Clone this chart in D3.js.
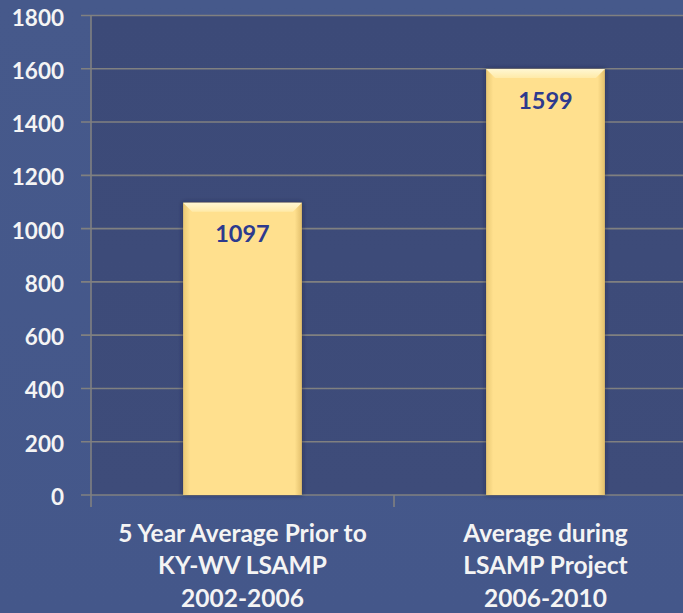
<!DOCTYPE html>
<html><head><meta charset="utf-8">
<script src="https://cdn.jsdelivr.net/npm/d3@7"></script>
<style>
html,body{margin:0;padding:0;background:#45578a;}
svg{display:block;}
</style></head>
<body>
<svg id="chart" width="683" height="613"></svg>
<script>
const categories = [
  ["5 Year Average Prior to", "KY-WV LSAMP", "2002-2006"],
  ["Average during", "LSAMP Project", "2006-2010"]
];
const values = [1097, 1599];
const yTicks = [0, 200, 400, 600, 800, 1000, 1200, 1400, 1600, 1800];

const W = 683, H = 613;
const svg = d3.select("#chart");
const font = "Lato, 'Open Sans', sans-serif";

const x = d3.scaleBand().domain(d3.range(categories.length)).range([91, 697]).padding(0);
const y = d3.scaleLinear().domain([0, 1800]).range([495, 15.5]);
const barFrac = 0.392;

const defs = svg.append("defs");
const bg = defs.append("linearGradient").attr("id","bg").attr("x1",0).attr("y1",0).attr("x2",0).attr("y2",1);
bg.append("stop").attr("offset","0%").attr("stop-color","#46598b");
bg.append("stop").attr("offset","100%").attr("stop-color","#44578a");
const pl = defs.append("linearGradient").attr("id","plot").attr("x1",0).attr("y1",0).attr("x2",0).attr("y2",1);
pl.append("stop").attr("offset","0%").attr("stop-color","#3c4a78");
pl.append("stop").attr("offset","100%").attr("stop-color","#3e4c7a");
const bar = defs.append("linearGradient").attr("id","bar").attr("x1",0).attr("y1",0).attr("x2",1).attr("y2",0);
bar.append("stop").attr("offset","0%").attr("stop-color","#e9c874");
bar.append("stop").attr("offset","6%").attr("stop-color","#ffe08e");
bar.append("stop").attr("offset","94%").attr("stop-color","#ffe08e");
bar.append("stop").attr("offset","100%").attr("stop-color","#e2bf6c");
const hi = defs.append("linearGradient").attr("id","hi").attr("x1",0).attr("y1",0).attr("x2",0).attr("y2",1);
hi.append("stop").attr("offset","0%").attr("stop-color","#fff7d2");
hi.append("stop").attr("offset","100%").attr("stop-color","#ffeaa8");
const sh = defs.append("filter").attr("id","shadow").attr("x","-20%").attr("y","-20%").attr("width","140%").attr("height","140%");
sh.append("feDropShadow").attr("dx",0).attr("dy",0).attr("stdDeviation",2.5).attr("flood-color","#1a2040").attr("flood-opacity",0.7);

svg.append("rect").attr("width",W).attr("height",H).attr("fill","url(#bg)");
svg.append("rect").attr("x",x.range()[0]).attr("y",y(1800)).attr("width",W - x.range()[0]).attr("height",y(0)-y(1800)).attr("fill","url(#plot)");

// gridlines
svg.append("g").selectAll("line").data(yTicks).join("line")
  .attr("x1",81).attr("x2",W).attr("y1",d=>y(d)).attr("y2",d=>y(d))
  .attr("stroke","#808080").attr("stroke-width",1.6);

// y axis line
svg.append("line").attr("x1",x.range()[0]).attr("x2",x.range()[0]).attr("y1",y(1800)).attr("y2",y(0))
  .attr("stroke","#808080").attr("stroke-width",1.6);

// y tick labels
svg.append("g").selectAll("text").data(yTicks).join("text")
  .attr("x",64).attr("y",d=>y(d)+1.5).attr("text-anchor","end").attr("dominant-baseline","central")
  .attr("fill","#f4f4f4").attr("font-family",font).attr("font-weight","bold").attr("font-size",22.5)
  .text(d=>d);

// category tick marks
const catTicks = d3.range(categories.length + 1).map(i => x.range()[0] + i * x.step());
svg.append("g").selectAll("line").data(catTicks).join("line")
  .attr("x1",d=>d).attr("x2",d=>d).attr("y1",y(0)).attr("y2",y(0)+12)
  .attr("stroke","#808080").attr("stroke-width",1.6);

// bars
const bw = x.bandwidth() * barFrac;
const bx = i => x(i) + (x.bandwidth() - bw) / 2;
const g = svg.append("g");
g.selectAll("rect.bar").data(values).join("rect").attr("class","bar")
  .attr("x",(d,i)=>bx(i)).attr("y",d=>y(d)).attr("width",bw).attr("height",d=>y(0)-y(d))
  .attr("fill","url(#bar)").attr("filter","url(#shadow)");
// bevel highlight on top
const bev = 9;
g.selectAll("path.bev").data(values).join("path").attr("class","bev")
  .attr("d",(d,i)=>{
    const x0 = bx(i), x1 = bx(i)+bw, t = y(d);
    return `M${x0},${t}L${x1},${t}L${x1-bev},${t+bev}L${x0+bev},${t+bev}Z`;
  })
  .attr("fill","url(#hi)");
// value labels
svg.append("g").selectAll("text").data(values).join("text")
  .attr("x",(d,i)=>x(i)+x.bandwidth()/2).attr("y",d=>y(d)+39.5)
  .attr("text-anchor","middle").attr("fill","#2d3a8e")
  .attr("font-family",font).attr("font-weight","bold").attr("font-size",23.5)
  .text(d=>d);

// category labels
const cl = svg.append("g").selectAll("text").data(categories).join("text")
  .attr("text-anchor","middle").attr("fill","#f4f4f4")
  .attr("font-family",font).attr("font-weight","bold").attr("font-size",24.5);
cl.each(function(lines,i){
  d3.select(this).selectAll("tspan").data(lines).join("tspan")
    .attr("x",x(i)+x.bandwidth()/2).attr("y",(d,j)=>541.5+j*32.5)
    .text(d=>d);
});
</script>
</body></html>
